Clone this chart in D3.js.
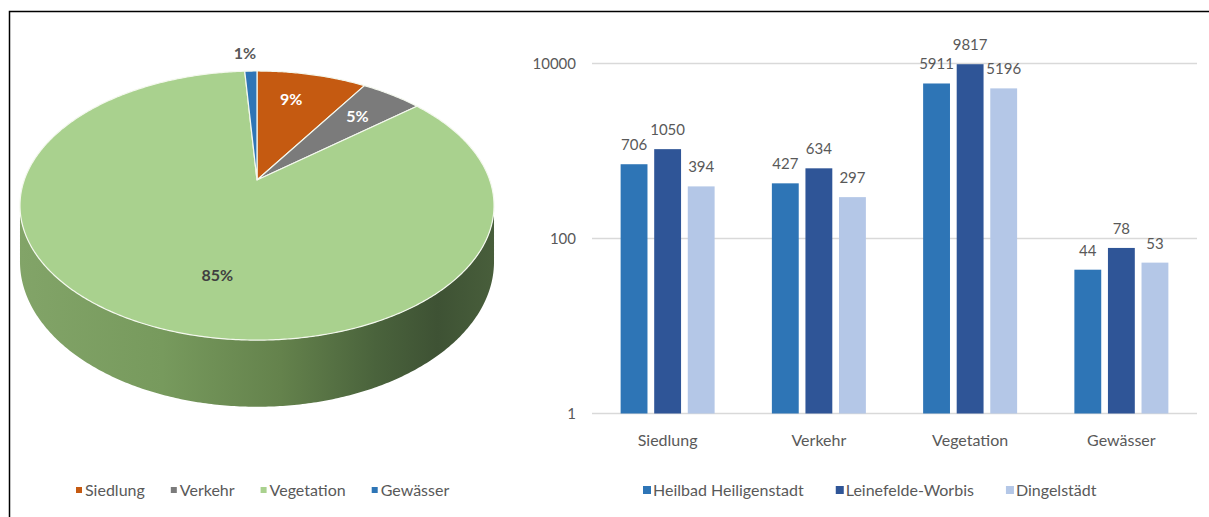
<!DOCTYPE html>
<html>
<head>
<meta charset="utf-8">
<script src="https://cdn.jsdelivr.net/npm/d3@7"></script>
<style>
  body { margin: 0; background: #fff; }
  svg { display: block; font-family: Lato, "Open Sans", sans-serif; }
</style>
</head>
<body>
<script>
var width = 1209, height = 517

// data
var categories = ["Siedlung", "Verkehr", "Vegetation", "Gewässer"]
var shares = [9, 5, 85, 1]
var shareLabels = ["9%", "5%", "85%", "1%"]
var pieColors = ["#c55a11", "#7b7b7b", "#a9d18e", "#2e75b6"]
var seriesNames = ["Heilbad Heiligenstadt", "Leinefelde-Worbis", "Dingelstädt"]
var heiligenstadt = [706, 427, 5911, 44]
var leinefelde = [1050, 634, 9817, 78]
var dingelstaedt = [394, 297, 5196, 53]
var barColors = ["#2e75b6", "#2f5597", "#b4c7e7"]
var yTicks = [1, 100, 10000]

var series = [heiligenstadt, leinefelde, dingelstaedt]

var svg = d3.select("body").append("svg")
    .attr("width", width)
    .attr("height", height)

// frame
svg.append("path")
    .attr("d", "M9.5,517 V11.5 H1209")
    .attr("fill", "none")
    .attr("stroke", "#000")
    .attr("stroke-width", 1.5)

// ---------- 3D pie ----------
var PCX = 257, PCY = 180, PA = 232.7, PB = 129.7, K = 0.19, PT = 54

function proj(u, v, h) {
    var w = 1 / (1 - K * v)
    return [PCX + PA * u * w, PCY + PB * v * w + PT * w * h]
}
// angle clockwise from 12 o'clock
function rim(a, r, h) {
    return proj(r * Math.sin(a), -r * Math.cos(a), h)
}
function arcPoints(a0, a1, r, h) {
    var n = Math.max(2, Math.ceil(Math.abs(a1 - a0) / 0.01)), pts = []
    for (var i = 0; i <= n; i++) pts.push(rim(a0 + (a1 - a0) * i / n, r, h))
    return pts
}

var arcs = d3.pie().sort(null)(shares)
var line = d3.line()

var defs = svg.append("defs")
var grad = defs.append("linearGradient")
    .attr("id", "side")
    .attr("gradientUnits", "userSpaceOnUse")
    .attr("x1", 20).attr("x2", 494).attr("y1", 0).attr("y2", 0)
grad.selectAll("stop")
    .data([[0, "#82a468"], [0.3, "#779a5d"], [0.55, "#64824c"], [0.75, "#4a633c"], [0.88, "#3e5234"], [1, "#485e3b"]])
    .enter().append("stop")
    .attr("offset", function(d) { return d[0] })
    .attr("stop-color", function(d) { return d[1] })

var pie = svg.append("g")

// front wall (visible where depth > K)
var frontA0 = Math.acos(-K), frontA1 = 2 * Math.PI - Math.acos(-K)
arcs.forEach(function(d) {
    var a0 = Math.max(d.startAngle, frontA0), a1 = Math.min(d.endAngle, frontA1)
    if (a1 <= a0) return
    var top = arcPoints(a0, a1, 1, 0), bot = arcPoints(a1, a0, 1, 1)
    pie.append("path")
        .attr("d", line(top.concat(bot)) + "Z")
        .attr("fill", d.index === 2 ? "url(#side)" : d3.color(pieColors[d.index]).darker(1))
})

// top faces
arcs.forEach(function(d) {
    var pts = [proj(0, 0, 0)].concat(arcPoints(d.startAngle, d.endAngle, 1, 0))
    pie.append("path")
        .attr("d", line(pts) + "Z")
        .attr("fill", pieColors[d.index])
        .attr("stroke", "#f4f8ee")
        .attr("stroke-width", 1.2)
        .attr("stroke-linejoin", "round")
})

// labels (Excel nudges the big label toward the front)
var labelTurn = [-0.05, 0, -0.18, 0]
arcs.forEach(function(d) {
    var mid = (d.startAngle + d.endAngle) / 2 + labelTurn[d.index]
    var outside = d.data < 3
    var p = rim(mid, outside ? 1.2 : (d.index === 2 ? 0.66 : 0.72), 0)
    pie.append("text")
        .attr("x", p[0] - (outside ? 5 : 0))
        .attr("y", p[1])
        .attr("dy", "0.35em")
        .attr("text-anchor", "middle")
        .attr("font-size", 16)
        .attr("font-weight", "bold")
        .attr("fill", (d.index === 0 || d.index === 1) ? "#fff" : (outside ? "#595959" : "#404040"))
        .text(shareLabels[d.index])
})

// pie legend
var pieLegend = svg.append("g").attr("transform", "translate(76,490)")
var lx = 0
categories.forEach(function(c, i) {
    var g = pieLegend.append("g").attr("transform", "translate(" + lx + ",0)")
    g.append("rect").attr("x", 0).attr("y", -3).attr("width", 6).attr("height", 6).attr("fill", pieColors[i])
    var t = g.append("text").attr("x", 9).attr("dy", "0.35em")
        .attr("font-size", 16).attr("fill", "#595959").text(c)
    lx += 9 + t.node().getComputedTextLength() + 26
})

// ---------- bar chart ----------
var x0 = d3.scaleBand().domain(categories).range([592, 1197])
var x1 = d3.scaleBand().domain(d3.range(3))
    .range([x0.bandwidth() / 2 - 47, x0.bandwidth() / 2 + 47])
    .paddingInner(0.2)
var y = d3.scaleLog().domain([1, 10000]).range([413.5, 63.5])

var chart = svg.append("g")

chart.append("g").selectAll("line")
    .data(yTicks)
    .enter().append("line")
    .attr("x1", 592).attr("x2", 1197)
    .attr("y1", function(d) { return y(d) }).attr("y2", function(d) { return y(d) })
    .attr("stroke", "#d9d9d9").attr("stroke-width", 1.5)

chart.append("g").selectAll("text")
    .data(yTicks)
    .enter().append("text")
    .attr("x", 576)
    .attr("y", function(d) { return y(d) })
    .attr("dy", "0.35em")
    .attr("text-anchor", "end")
    .attr("font-size", 15)
    .attr("fill", "#595959")
    .text(function(d) { return d })

var groups = chart.selectAll(".grp")
    .data(categories)
    .enter().append("g")
    .attr("class", "grp")
    .attr("transform", function(c) { return "translate(" + x0(c) + ",0)" })

groups.selectAll("rect")
    .data(function(c, ci) { return series.map(function(s, si) { return {s: si, v: s[ci]} }) })
    .enter().append("rect")
    .attr("x", function(d) { return x1(d.s) })
    .attr("width", x1.bandwidth())
    .attr("y", function(d) { return y(d.v) })
    .attr("height", function(d) { return y(1) - y(d.v) })
    .attr("fill", function(d) { return barColors[d.s] })

groups.selectAll("text")
    .data(function(c, ci) { return series.map(function(s, si) { return {s: si, v: s[ci]} }) })
    .enter().append("text")
    .attr("x", function(d) { return x1(d.s) + x1.bandwidth() / 2 })
    .attr("y", function(d) { return y(d.v) - 14 })
    .attr("text-anchor", "middle")
    .attr("font-size", 15)
    .attr("fill", "#595959")
    .text(function(d) { return d.v })

chart.append("g").selectAll("text")
    .data(categories)
    .enter().append("text")
    .attr("x", function(c) { return x0(c) + x0.bandwidth() / 2 })
    .attr("y", 446)
    .attr("text-anchor", "middle")
    .attr("font-size", 16)
    .attr("fill", "#595959")
    .text(function(c) { return c })

// bar legend
var barLegend = svg.append("g").attr("transform", "translate(643,490)")
var bx = 0
seriesNames.forEach(function(n, i) {
    var g = barLegend.append("g").attr("transform", "translate(" + bx + ",0)")
    g.append("rect").attr("x", 0).attr("y", -4).attr("width", 8).attr("height", 8).attr("fill", barColors[i])
    var t = g.append("text").attr("x", 10).attr("dy", "0.35em")
        .attr("font-size", 16).attr("fill", "#595959").text(n)
    bx += 10 + t.node().getComputedTextLength() + 32
})
</script>
</body>
</html>
